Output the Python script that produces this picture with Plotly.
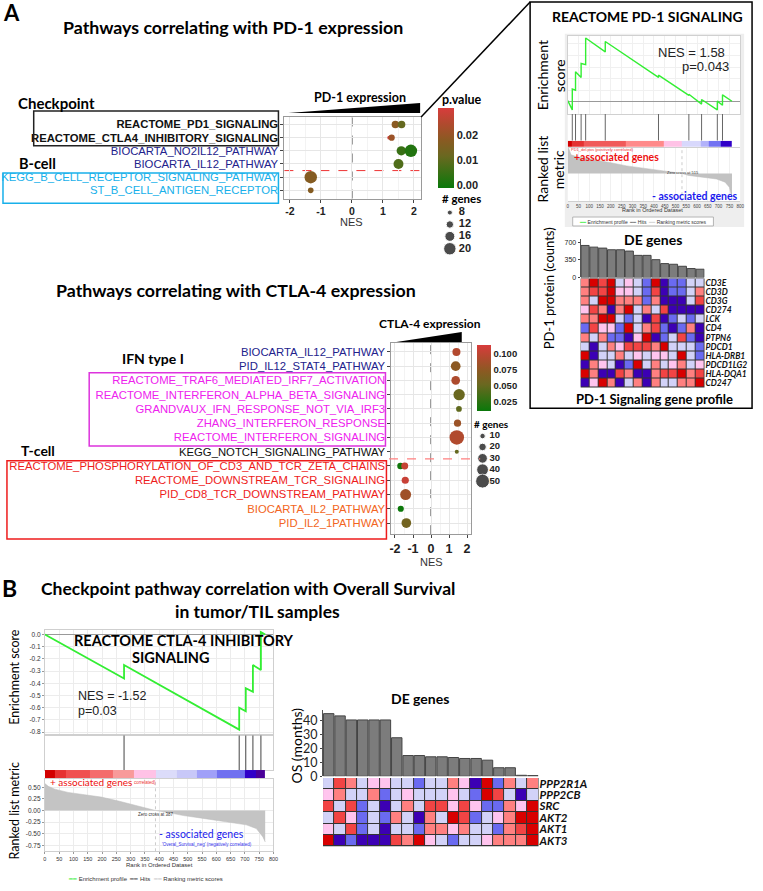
import plotly.graph_objects as go

W, H = 763, 891
def X(px): return px / W
def Y(py): return 1 - py / H
def DX(a, b): return [X(a), X(b)]
def DY(top, bottom): return [Y(bottom), Y(top)]

LATO = "Lato"
ARIAL = "Liberation Sans"

# ===================== DATA =====================
# --- A: PD-1 dot plot ---
pd1_pathways = ["REACTOME_PD1_SIGNALING", "REACTOME_CTLA4_INHIBITORY_SIGNALING",
                "BIOCARTA_NO2IL12_PATHWAY", "BIOCARTA_IL12_PATHWAY",
                "KEGG_B_CELL_RECEPTOR_SIGNALING_PATHWAY", "ST_B_CELL_ANTIGEN_RECEPTOR"]
pd1_label_colors = ["#111111", "#111111", "#22228c", "#22228c", "#18b0ea", "#18b0ea"]
pd1_label_bold = [True, True, False, False, False, False]
pd1_dot_path = ["REACTOME_PD1_SIGNALING", "REACTOME_PD1_SIGNALING",
                "REACTOME_CTLA4_INHIBITORY_SIGNALING", "REACTOME_CTLA4_INHIBITORY_SIGNALING",
                "BIOCARTA_NO2IL12_PATHWAY", "BIOCARTA_NO2IL12_PATHWAY",
                "BIOCARTA_IL12_PATHWAY", "KEGG_B_CELL_RECEPTOR_SIGNALING_PATHWAY",
                "ST_B_CELL_ANTIGEN_RECEPTOR"]
pd1_dot_nes = [1.40, 1.60, 1.20, 1.28, 1.59, 1.90, 1.50, -1.33, -1.33]
pd1_dot_p = [0.018, 0.011, 0.030, 0.021, 0.005, 0.002, 0.008, 0.017, 0.017]
pd1_dot_genes = [12, 12, 6, 10, 15, 20, 16, 20, 9]
pd1_size_breaks = [8, 12, 16, 20]
pd1_cbar_ticks = [0.00, 0.01, 0.02]
nes_ticks = [-2, -1, 0, 1, 2]

# --- A: CTLA-4 dot plot ---
ctla_pathways = ["BIOCARTA_IL12_PATHWAY", "PID_IL12_STAT4_PATHWAY",
                 "REACTOME_TRAF6_MEDIATED_IRF7_ACTIVATION", "REACTOME_INTERFERON_ALPHA_BETA_SIGNALING",
                 "GRANDVAUX_IFN_RESPONSE_NOT_VIA_IRF3", "ZHANG_INTERFERON_RESPONSE",
                 "REACTOME_INTERFERON_SIGNALING", "KEGG_NOTCH_SIGNALING_PATHWAY",
                 "REACTOME_PHOSPHORYLATION_OF_CD3_AND_TCR_ZETA_CHAINS", "REACTOME_DOWNSTREAM_TCR_SIGNALING",
                 "PID_CD8_TCR_DOWNSTREAM_PATHWAY", "BIOCARTA_IL2_PATHWAY", "PID_IL2_1PATHWAY"]
ctla_label_colors = ["#22228c", "#22228c", "#ee22ee", "#ee22ee", "#ee22ee", "#ee22ee", "#ee22ee",
                     "#111111", "#ee1c1c", "#ee1c1c", "#ee1c1c", "#f26522", "#f26522"]
ctla_dot_path = ["BIOCARTA_IL12_PATHWAY", "PID_IL12_STAT4_PATHWAY",
                 "REACTOME_TRAF6_MEDIATED_IRF7_ACTIVATION", "REACTOME_INTERFERON_ALPHA_BETA_SIGNALING",
                 "GRANDVAUX_IFN_RESPONSE_NOT_VIA_IRF3", "ZHANG_INTERFERON_RESPONSE",
                 "REACTOME_INTERFERON_SIGNALING", "KEGG_NOTCH_SIGNALING_PATHWAY",
                 "REACTOME_PHOSPHORYLATION_OF_CD3_AND_TCR_ZETA_CHAINS",
                 "REACTOME_PHOSPHORYLATION_OF_CD3_AND_TCR_ZETA_CHAINS",
                 "REACTOME_DOWNSTREAM_TCR_SIGNALING", "PID_CD8_TCR_DOWNSTREAM_PATHWAY",
                 "BIOCARTA_IL2_PATHWAY", "PID_IL2_1PATHWAY"]
ctla_dot_nes = [1.41, 1.37, 1.37, 1.56, 1.55, 1.47, 1.43, 1.43, -1.70, -1.46, -1.43, -1.41, -1.68, -1.37]
ctla_dot_p = [0.095, 0.074, 0.092, 0.052, 0.048, 0.082, 0.094, 0.050, 0.014, 0.104, 0.106, 0.084, 0.012, 0.058]
ctla_dot_genes = [22, 30, 25, 38, 11, 18, 53, 3, 14, 17, 18, 36, 13, 30]
ctla_size_breaks = [10, 20, 30, 40, 50]
ctla_cbar_ticks = [0.025, 0.050, 0.075, 0.100]

# --- A inset: GSEA REACTOME PD-1 SIGNALING ---
pd1_es_rank = [0, 21, 21, 36, 36, 62, 62, 83, 83, 174, 174, 421, 421, 562, 562, 621, 621, 694, 694, 718, 718, 762]
pd1_es_val = [0.01, -0.07, 0.11, 0.10, 0.26, 0.21, 0.33, 0.32, 0.55, 0.43, 0.52, 0.21, 0.23, 0.055, 0.065,
              -0.02, 0.02, -0.07, 0.006, -0.03, 0.06, 0.005]
pd1_hits = [21, 36, 62, 83, 174, 421, 562, 621, 694, 718]
pd1_metric_rank = [0, 5, 15, 43, 120, 200, 274, 350, 428, 530, 560, 620, 690, 730, 750, 762]
pd1_metric_val = [0.70, 0.62, 0.47, 0.42, 0.35, 0.27, 0.19, 0.13, 0.07, 0.0, -0.05, -0.09, -0.14, -0.22, -0.35, -0.62]
pd1_strip_edges = [0, 20, 73, 270, 444, 527, 618, 656, 709, 762]
pd1_strip_colors = ["#d20000", "#e43232", "#f05a5a", "#ff8a8a", "#ffc2e6", "#d8d8fc", "#b2b2fa", "#7272f2", "#3000c8"]
pd1_zero_cross = 530
rank_ticks = list(range(0, 801, 50))

# --- A inset: DE genes ---
pd1_de_counts = [634, 601, 582, 549, 549, 523, 438, 438, 353, 275, 262, 222, 177, 164]
pd1_count_ticks = [0, 350, 700]
pd1_genes = ["CD3E", "CD3D", "CD3G", "CD274", "LCK", "CD4", "PTPN6", "PDCD1",
             "HLA-DRB1", "PDCD1LG2", "HLA-DQA1", "CD247"]
pd1_heat = [
    [4, 6, 5, 6, 2, 3, 2, 1, 6, 0, 1, 1, 2, 2],
    [4, 5, 5, 6, 3, 3, 2, 1, 5, 0, 1, 1, 2, 4],
    [4, 2, 6, 6, 4, 4, 4, 1, 4, 0, 0, 0, 2, 5],
    [3, 5, 4, 0, 4, 6, 2, 4, 2, 5, 0, 0, 0, 0],
    [4, 4, 6, 6, 2, 1, 2, 0, 5, 0, 1, 2, 1, 2],
    [1, 5, 3, 3, 1, 6, 2, 4, 5, 1, 0, 1, 4, 0],
    [4, 2, 4, 1, 1, 0, 3, 6, 0, 1, 2, 5, 1, 0],
    [2, 0, 2, 4, 3, 5, 5, 5, 4, 6, 2, 2, 2, 1],
    [6, 0, 2, 2, 4, 2, 3, 2, 3, 3, 2, 6, 2, 1],
    [0, 4, 3, 2, 0, 1, 6, 2, 4, 2, 3, 4, 2, 3],
    [6, 4, 0, 0, 5, 4, 0, 0, 4, 5, 5, 6, 4, 5],
    [0, 3, 6, 4, 0, 2, 4, 0, 4, 2, 2, 4, 4, 6],
]

# --- B: GSEA REACTOME CTLA-4 INHIBITORY SIGNALING vs OS ---
b_es_rank = [0, 277, 277, 680, 680, 703, 703, 728, 728, 756, 756, 771]
b_es_val = [0.0, -0.36, -0.25, -0.78, -0.60, -0.63, -0.44, -0.47, -0.25, -0.29, 0.02, 0.0]
b_es_ticks = [0.0, -0.1, -0.2, -0.3, -0.4, -0.5, -0.6, -0.7, -0.8]
b_hits = [277, 680, 703, 728, 756]
b_metric_rank = [0, 12, 35, 81, 139, 197, 254, 312, 387, 428, 485, 543, 601, 659, 705, 740, 763, 771]
b_metric_val = [0.58, 0.52, 0.46, 0.39, 0.34, 0.29, 0.21, 0.12, 0.0, -0.04, -0.11, -0.16, -0.21, -0.26, -0.31, -0.39, -0.57, -0.68]
b_metric_ticks = [0.5, 0.25, 0.0, -0.25, -0.5, -0.75]
b_strip_edges = [0, 35, 75, 156, 237, 312, 387, 462, 532, 601, 699, 740, 771]
b_strip_colors = ["#d20000", "#e63232", "#f05050", "#f46c6c", "#f89a9a", "#ffc2e6", "#dcdcfa",
                  "#c8c8f8", "#a0a0f8", "#7070f0", "#3000c8", "#4a0098"]
b_zero_cross = 387

# --- B: DE genes ---
b_os = [44.7, 43.1, 40.2, 40.2, 40.2, 40.2, 27.5, 14.8, 14.8, 13.9, 13.9, 13.4, 12.7, 12.7, 11.5, 6.1, 6.1, 0.7, 0.5]
b_os_ticks = [0, 10, 20, 30, 40]
b_genes = ["PPP2R1A", "PPP2CB", "SRC", "AKT2", "AKT1", "AKT3"]
b_heat = [
    [2, 5, 4, 2, 3, 3, 2, 2, 1, 2, 2, 4, 3, 0, 6, 1, 4, 2, 4],
    [3, 4, 2, 2, 4, 1, 2, 3, 2, 2, 2, 3, 2, 1, 6, 5, 2, 0, 2],
    [5, 2, 5, 1, 2, 0, 2, 4, 2, 5, 5, 3, 5, 3, 1, 1, 4, 3, 6],
    [2, 5, 3, 1, 2, 1, 4, 2, 0, 4, 2, 6, 5, 1, 2, 3, 4, 6, 6],
    [3, 2, 5, 1, 2, 0, 2, 2, 1, 4, 4, 3, 4, 2, 2, 1, 4, 5, 6],
    [6, 0, 1, 0, 0, 0, 5, 4, 6, 3, 2, 1, 2, 2, 3, 4, 4, 4, 6],
]
heat_colors = ["#3c00b4", "#6a6af0", "#d2d2f8", "#ffc4ee", "#ff8080", "#f24444", "#d80000"]

# ===================== HELPERS =====================
shapes, annotations = [], []

def note(text, x, y, size, bold=False, color="black", family=LATO, xanchor="center",
         yanchor="middle", angle=0):
    if bold:
        text = f"<b>{text}</b>"
    annotations.append(dict(text=text, x=X(x), y=Y(y), xref="paper", yref="paper", showarrow=False,
                            font=dict(family=family, size=size, color=color),
                            xanchor=xanchor, yanchor=yanchor, textangle=angle, borderpad=0))

def rect(x0, y0, x1, y1, line_color=None, width=1, fill=None, layer="above"):
    shapes.append(dict(type="rect", xref="paper", yref="paper", x0=X(x0), x1=X(x1), y0=Y(y0), y1=Y(y1),
                       line=dict(color=line_color or "rgba(0,0,0,0)", width=width if line_color else 0),
                       fillcolor=fill or "rgba(0,0,0,0)", layer=layer))

def seg(x0, y0, x1, y1, color="black", width=1, dash="solid"):
    shapes.append(dict(type="line", xref="paper", yref="paper", x0=X(x0), y0=Y(y0), x1=X(x1), y1=Y(y1),
                       line=dict(color=color, width=width, dash=dash)))

def discrete(colors):
    n = len(colors)
    cs = []
    for i, c in enumerate(colors):
        cs += [[i / n, c], [(i + 1) / n, c]]
    return cs

def vlines(xs):
    xx, yy = [], []
    for h in xs:
        xx += [h, h, None]
        yy += [0, 1, None]
    return xx, yy

pv_scale = [[0, "#0a780a"], [0.4, "#6a6820"], [0.6, "#8a5a22"], [0.8, "#b04a2e"], [1, "#d83c3c"]]
def pd1_size(n): return 5 + (n - 8) * 0.62
def ctla_size(n): return 3.4 + 0.21 * n

fig = go.Figure()

# background boxes (drawn first)
rect(568, 33, 749, 228, fill="#eeeeee", layer="below")
rect(571, 35, 745, 202, fill="white", layer="below")

# ===================== PD-1 DOT PLOT =====================
fig.add_trace(go.Scatter(
    x=pd1_dot_nes, y=pd1_dot_path, mode="markers", xaxis="x", yaxis="y", showlegend=False,
    marker=dict(size=[pd1_size(n) for n in pd1_dot_genes], color=pd1_dot_p, colorscale=pv_scale,
                cmin=-0.0012, cmax=0.0308, line=dict(width=0), opacity=1, showscale=True,
                colorbar=dict(x=X(440), xanchor="left", y=Y(108), yanchor="top", len=80, lenmode="pixels",
                              thickness=16, thicknessmode="pixels", outlinewidth=0, xpad=0, ypad=0,
                              tickvals=pd1_cbar_ticks, ticktext=[f"<b>{v:.2f}</b>" for v in pd1_cbar_ticks],
                              tickfont=dict(family=ARIAL, size=11, color="#222"), ticks=""))))

pd1_ticktext = [f"<span style='color:{c}'>{'<b>' + p + '</b>' if b else p}</span>"
                for p, c, b in zip(pd1_pathways, pd1_label_colors, pd1_label_bold)]

# ===================== CTLA-4 DOT PLOT =====================
fig.add_trace(go.Scatter(
    x=ctla_dot_nes, y=ctla_dot_path, mode="markers", xaxis="x2", yaxis="y2", showlegend=False,
    marker=dict(size=[ctla_size(n) for n in ctla_dot_genes], color=ctla_dot_p, colorscale=pv_scale,
                cmin=0.011, cmax=0.114, line=dict(width=0), opacity=1, showscale=True,
                colorbar=dict(x=X(479), xanchor="left", y=Y(347), yanchor="top", len=66, lenmode="pixels",
                              thickness=14, thicknessmode="pixels", outlinewidth=0, xpad=0, ypad=0,
                              tickvals=ctla_cbar_ticks, ticktext=[f"<b>{v:.3f}</b>" for v in ctla_cbar_ticks],
                              tickfont=dict(family=ARIAL, size=9.5, color="#222"), ticks=""))))
ctla_ticktext = [f"<span style='color:{c}'>{p}</span>" for p, c in zip(ctla_pathways, ctla_label_colors)]

# size legends (overlay pixel axis x20/y20)
pd1_leg_y = [213.5, 225.5, 237.5, 250]
ctla_leg_y = [439, 450, 461.5, 473, 484.5]
fig.add_trace(go.Scatter(x=[452] * len(pd1_size_breaks), y=pd1_leg_y, mode="markers",
                         xaxis="x20", yaxis="y20", showlegend=False,
                         marker=dict(size=[pd1_size(n) for n in pd1_size_breaks], color="black")))
fig.add_trace(go.Scatter(x=[461] * len(pd1_size_breaks), y=pd1_leg_y, mode="text",
                         xaxis="x20", yaxis="y20", showlegend=False, textposition="middle right",
                         text=[f"<b>{n}</b>" for n in pd1_size_breaks],
                         textfont=dict(family=ARIAL, size=11, color="#222")))
fig.add_trace(go.Scatter(x=[485] * len(ctla_size_breaks), y=ctla_leg_y, mode="markers",
                         xaxis="x20", yaxis="y20", showlegend=False,
                         marker=dict(size=[ctla_size(n) for n in ctla_size_breaks], color="black")))
fig.add_trace(go.Scatter(x=[492] * len(ctla_size_breaks), y=ctla_leg_y, mode="text",
                         xaxis="x20", yaxis="y20", showlegend=False, textposition="middle right",
                         text=[f"<b>{n}</b>" for n in ctla_size_breaks],
                         textfont=dict(family=ARIAL, size=9.5, color="#222")))

# ===================== PD-1 GSEA (inset) =====================
fig.add_trace(go.Scatter(x=pd1_es_rank, y=pd1_es_val, mode="lines", xaxis="x3", yaxis="y3",
                         line=dict(color="#33ee33", width=1.4), showlegend=False))
hx, hy = vlines(pd1_hits)
fig.add_trace(go.Scatter(x=hx, y=hy, mode="lines", xaxis="x4", yaxis="y4",
                         line=dict(color="#666666", width=1), showlegend=False))
fig.add_trace(go.Heatmap(z=[list(range(len(pd1_strip_colors)))], x=pd1_strip_edges, xaxis="x5", yaxis="y5",
                         colorscale=discrete(pd1_strip_colors), zmin=-0.5, zmax=len(pd1_strip_colors) - 0.5,
                         showscale=False, hoverinfo="skip"))
fig.add_trace(go.Scatter(x=pd1_metric_rank, y=pd1_metric_val, mode="lines", xaxis="x6", yaxis="y6",
                         fill="tozeroy", fillcolor="#c2c2c2", line=dict(color="#bdbdbd", width=0.5),
                         showlegend=False))

# ===================== PD-1 DE genes =====================
fig.add_trace(go.Bar(x=list(range(len(pd1_de_counts))), y=pd1_de_counts, xaxis="x7", yaxis="y7",
                     marker=dict(color="#7c7c7c", line=dict(color="#444444", width=1)), width=0.92,
                     showlegend=False))
fig.add_trace(go.Heatmap(z=pd1_heat, x=list(range(len(pd1_heat[0]))), y=pd1_genes, xaxis="x8", yaxis="y8",
                         colorscale=discrete(heat_colors), zmin=-0.5, zmax=len(heat_colors) - 0.5,
                         showscale=False, xgap=1, ygap=1, hoverinfo="skip"))

# ===================== B GSEA =====================
rect(43.3, 635, 274, 858, fill="white", layer="below")
fig.add_trace(go.Scatter(x=b_es_rank, y=b_es_val, mode="lines", xaxis="x9", yaxis="y9",
                         line=dict(color="#33ee33", width=1.8), showlegend=False))
hx, hy = vlines(b_hits)
fig.add_trace(go.Scatter(x=hx, y=hy, mode="lines", xaxis="x10", yaxis="y10",
                         line=dict(color="#444444", width=1), showlegend=False))
fig.add_trace(go.Heatmap(z=[list(range(len(b_strip_colors)))], x=b_strip_edges, xaxis="x11", yaxis="y11",
                         colorscale=discrete(b_strip_colors), zmin=-0.5, zmax=len(b_strip_colors) - 0.5,
                         showscale=False, hoverinfo="skip"))
fig.add_trace(go.Scatter(x=b_metric_rank, y=b_metric_val, mode="lines", xaxis="x12", yaxis="y12",
                         fill="tozeroy", fillcolor="#c4c4c4", line=dict(color="#bdbdbd", width=0.5),
                         showlegend=False))

# ===================== B DE genes =====================
fig.add_trace(go.Bar(x=list(range(len(b_os))), y=b_os, xaxis="x13", yaxis="y13",
                     marker=dict(color="#7c7c7c", line=dict(color="#444444", width=1)), width=0.92,
                     showlegend=False))
fig.add_trace(go.Heatmap(z=b_heat, x=list(range(len(b_heat[0]))), y=b_genes, xaxis="x14", yaxis="y14",
                         colorscale=discrete(heat_colors), zmin=-0.5, zmax=len(heat_colors) - 0.5,
                         showscale=False, xgap=1, ygap=1, hoverinfo="skip"))

# dark backgrounds behind heatmaps (cell borders)
rect(584, 280, 709, 390, fill="#333333", layer="below")
rect(324, 784, 541.5, 853, fill="#333333", layer="below")

# ===================== AXES =====================
grid = "#e6e6e6"
layout_axes = {}
# PD-1 dot plot
layout_axes["xaxis"] = dict(domain=DX(285, 423), range=[-2.18, 2.23], anchor="y",
                            tickvals=nes_ticks, ticktext=[f"<b>{t}</b>" for t in nes_ticks],
                            tickfont=dict(family=ARIAL, size=10.5, color="#222"),
                            ticks="outside", ticklen=3, tickcolor="#444", showgrid=True, gridcolor=grid,
                            minor=dict(tickvals=[-1.5, -0.5, 0.5, 1.5], showgrid=True, gridcolor="#f3f3f3"),
                            zeroline=False, showline=True, mirror=True, linecolor="#9a9a9a", linewidth=1)
layout_axes["yaxis"] = dict(domain=DY(117, 199.3), anchor="x", type="category",
                            categoryorder="array", categoryarray=list(reversed(pd1_pathways)),
                            range=[-0.62, 5.57], tickvals=pd1_pathways, ticktext=pd1_ticktext,
                            tickfont=dict(family=ARIAL, size=11.3), ticks="outside", ticklen=3, tickcolor="#444",
                            showgrid=True, gridcolor=grid, zeroline=False,
                            showline=True, mirror=True, linecolor="#9a9a9a", linewidth=1)
# CTLA-4 dot plot
layout_axes["xaxis2"] = dict(domain=DX(393, 473), range=[-2.2, 2.2], anchor="y2",
                             tickvals=nes_ticks, ticktext=[f"<b>{t}</b>" for t in nes_ticks],
                             tickfont=dict(family=ARIAL, size=12.5, color="#222"),
                             ticks="outside", ticklen=3, tickcolor="#444", showgrid=True, gridcolor=grid,
                             minor=dict(tickvals=[-1.5, -0.5, 0.5, 1.5], showgrid=True, gridcolor="#f3f3f3"),
                             zeroline=False, showline=True, mirror=True, linecolor="#9a9a9a", linewidth=1)
layout_axes["yaxis2"] = dict(domain=DY(345, 538), anchor="x2", type="category",
                             categoryorder="array", categoryarray=list(reversed(ctla_pathways)),
                             range=[-0.78, 12.63], tickvals=ctla_pathways, ticktext=ctla_ticktext,
                             tickfont=dict(family=ARIAL, size=11.3), ticks="outside", ticklen=3, tickcolor="#444",
                             showgrid=True, gridcolor=grid, zeroline=False,
                             showline=True, mirror=True, linecolor="#9a9a9a", linewidth=1)

# PD-1 GSEA stack
gx = dict(domain=DX(571, 745), range=[0, 800])
layout_axes["xaxis3"] = dict(**gx, anchor="y3", showticklabels=False, ticks="", showgrid=True,
                             gridcolor="#f0f0f0", dtick=50, zeroline=False,
                             showline=True, mirror=True, linecolor="#d0d0d0")
layout_axes["yaxis3"] = dict(domain=DY(35, 114), anchor="x3", range=[-0.105, 0.57], showticklabels=False,
                             ticks="", showgrid=True, gridcolor="#f0f0f0", dtick=0.1,
                             zeroline=True, zerolinecolor="#999999", zerolinewidth=1,
                             showline=True, mirror=True, linecolor="#d0d0d0")
layout_axes["xaxis4"] = dict(**gx, anchor="y4", showticklabels=False, ticks="", showgrid=False, zeroline=False)
layout_axes["yaxis4"] = dict(domain=DY(114, 141), anchor="x4", range=[0, 1], showticklabels=False, ticks="",
                             showgrid=False, zeroline=False)
layout_axes["xaxis5"] = dict(**gx, anchor="y5", showticklabels=False, ticks="", showgrid=False, zeroline=False)
layout_axes["yaxis5"] = dict(domain=DY(141, 147.5), anchor="x5", range=[-0.5, 0.5], showticklabels=False,
                             ticks="", showgrid=False, zeroline=False)
layout_axes["xaxis6"] = dict(**gx, anchor="y6", tickvals=rank_ticks, tickfont=dict(family=ARIAL, size=4.5, color="#444"),
                             ticks="", showgrid=True, gridcolor="#f0f0f0", zeroline=False,
                             showline=True, mirror=True, linecolor="#d0d0d0")
layout_axes["yaxis6"] = dict(domain=DY(148, 202), anchor="x6", range=[-0.7, 0.65], showticklabels=False,
                             ticks="", showgrid=False, zeroline=False)

# PD-1 DE bars + heatmap
layout_axes["xaxis7"] = dict(domain=DX(584, 709), range=[-0.5, len(pd1_de_counts) - 0.5], anchor="y7",
                             showticklabels=False, ticks="", showgrid=False, zeroline=False)
layout_axes["yaxis7"] = dict(domain=DY(240, 279), anchor="x7", range=[0, 765], tickvals=pd1_count_ticks,
                             tickfont=dict(family=ARIAL, size=7, color="#222"), ticks="outside", ticklen=2,
                             showgrid=False, zeroline=False, showline=True, linecolor="#555", linewidth=1)
layout_axes["xaxis8"] = dict(domain=DX(584, 709), range=[-0.5, len(pd1_heat[0]) - 0.5], anchor="y8",
                             showticklabels=False, ticks="", showgrid=False, zeroline=False)
layout_axes["yaxis8"] = dict(domain=DY(280, 390), anchor="x8", autorange="reversed", side="right",
                             tickvals=pd1_genes, ticktext=[f"<b><i>{g}</i></b>" for g in pd1_genes],
                             tickfont=dict(family=LATO, size=8.5, color="#111"), ticks="", showgrid=False,
                             zeroline=False)

# B GSEA stack
bx = dict(domain=DX(43.3, 274), range=[0, 800])
layout_axes["xaxis9"] = dict(**bx, anchor="y9", showticklabels=False, ticks="", showgrid=True, gridcolor="#ececec",
                             dtick=50, zeroline=False, showline=True, mirror=True, linecolor="#cfcfcf")
layout_axes["yaxis9"] = dict(domain=DY(635, 741), anchor="x9", range=[-0.827, 0.035], tickvals=b_es_ticks,
                             ticktext=[f"{t:.1f}" for t in b_es_ticks],
                             tickfont=dict(family=ARIAL, size=6.5, color="#333"), ticks="outside", ticklen=2,
                             tickcolor="#999", showgrid=True, gridcolor="#ececec", zeroline=True,
                             zerolinecolor="#999999", zerolinewidth=1,
                             showline=True, mirror=True, linecolor="#cfcfcf")
layout_axes["xaxis10"] = dict(**bx, anchor="y10", showticklabels=False, ticks="", showgrid=False, zeroline=False,
                              showline=True, mirror=True, linecolor="#cfcfcf")
layout_axes["yaxis10"] = dict(domain=DY(741, 776), anchor="x10", range=[0, 1], showticklabels=False, ticks="",
                              showgrid=False, zeroline=False, showline=True, mirror=True, linecolor="#cfcfcf")
layout_axes["xaxis11"] = dict(**bx, anchor="y11", showticklabels=False, ticks="", showgrid=False, zeroline=False)
layout_axes["yaxis11"] = dict(domain=DY(776, 784.5), anchor="x11", range=[-0.5, 0.5], showticklabels=False,
                              ticks="", showgrid=False, zeroline=False)
layout_axes["xaxis12"] = dict(**bx, anchor="y12", tickvals=rank_ticks,
                              tickfont=dict(family=ARIAL, size=5.5, color="#333"), ticks="outside", ticklen=2,
                              tickcolor="#999", showgrid=True, gridcolor="#ececec", zeroline=False,
                              showline=True, mirror=True, linecolor="#cfcfcf")
layout_axes["yaxis12"] = dict(domain=DY(785, 858), anchor="x12", range=[-0.88, 0.68], tickvals=b_metric_ticks,
                              ticktext=[f"{t:.2f}" for t in b_metric_ticks],
                              tickfont=dict(family=ARIAL, size=6.5, color="#333"), ticks="outside", ticklen=2,
                              tickcolor="#999", showgrid=True, gridcolor="#ececec", zeroline=False,
                              showline=True, mirror=True, linecolor="#cfcfcf")

# B DE bars + heatmap
layout_axes["xaxis13"] = dict(domain=DX(324, 541.5), range=[-0.5, len(b_os) - 0.5], anchor="y13",
                              showticklabels=False, ticks="", showgrid=False, zeroline=False)
layout_axes["yaxis13"] = dict(domain=DY(715, 782.3), anchor="x13", range=[0, 47.6], tickvals=b_os_ticks,
                              tickfont=dict(family=LATO, size=12.5, color="#222"), ticks="outside", ticklen=2,
                              showgrid=False, zeroline=False, showline=True, linecolor="#555", linewidth=1)
layout_axes["xaxis14"] = dict(domain=DX(324, 541.5), range=[-0.5, len(b_heat[0]) - 0.5], anchor="y14",
                              showticklabels=False, ticks="", showgrid=False, zeroline=False)
layout_axes["yaxis14"] = dict(domain=DY(784, 853), anchor="x14", autorange="reversed", side="right",
                              tickvals=b_genes, ticktext=[f"<b><i>{g}</i></b>" for g in b_genes],
                              tickfont=dict(family=LATO, size=11.5, color="#111"), ticks="", showgrid=False,
                              zeroline=False)

# overlay pixel axis for legend glyphs
layout_axes["xaxis20"] = dict(domain=[0, 1], range=[0, W], visible=False, anchor="y20")
layout_axes["yaxis20"] = dict(domain=[0, 1], range=[H, 0], visible=False, anchor="x20")

# ===================== SHAPES =====================
shapes.append(dict(type="line", xref="x", yref="y domain", x0=0, x1=0, y0=0, y1=1,
                   line=dict(color="#333", width=1, dash="dash"), layer="below"))
shapes.append(dict(type="line", xref="x domain", yref="y", x0=0, x1=1, y0=1.5, y1=1.5,
                   line=dict(color="#ee3333", width=1, dash="dash"), layer="below"))
shapes.append(dict(type="line", xref="x2", yref="y2 domain", x0=0, x1=0, y0=0, y1=1,
                   line=dict(color="#333", width=1, dash="dash"), layer="below"))
shapes.append(dict(type="line", xref="x2 domain", yref="y2", x0=-0.03, x1=1.12, y0=4.5, y1=4.5,
                   line=dict(color="#ff8080", width=1.2, dash="dash")))
shapes.append(dict(type="line", xref="x6", yref="y6 domain", x0=pd1_zero_cross, x1=pd1_zero_cross, y0=0, y1=1,
                   line=dict(color="#cccccc", width=1, dash="dot")))
shapes.append(dict(type="line", xref="x12", yref="y12 domain", x0=b_zero_cross, x1=b_zero_cross, y0=0, y1=1,
                   line=dict(color="#cccccc", width=1, dash="dot")))

# expression wedges
shapes.append(dict(type="path", xref="paper", yref="paper", fillcolor="black", line=dict(width=0),
                   path=f"M {X(289)} {Y(113)} L {X(422)} {Y(103)} L {X(422)} {Y(113)} Z"))
shapes.append(dict(type="path", xref="paper", yref="paper", fillcolor="black", line=dict(width=0),
                   path=f"M {X(398)} {Y(344)} L {X(464)} {Y(334)} L {X(464)} {Y(344)} Z"))

# category boxes
rect(32, 111, 279, 146, line_color="#222222", width=1.5)
rect(1, 173.5, 279, 204, line_color="#18b0ea", width=1.5)
rect(88, 375, 387, 449, line_color="#dd33dd", width=1.5)
rect(5, 464, 388, 543, line_color="#ee1c1c", width=1.5)

# inset frame + connector
rect(533, 1, 757, 411, line_color="black", width=1.5)
seg(423, 117, 533, 1, color="black", width=1.5)

# GSEA legend box (inset)
rect(576, 218, 718, 227, line_color="#999999", width=0.7, fill="white")

# ===================== TEXT =====================
note("A", 10, 12, 22, bold=True)
note("Pathways correlating with PD-1 expression", 233, 26, 17.8, bold=True)
note("PD-1 expression", 361, 97, 12.5, bold=True)
note("Checkpoint", 55, 103, 15, bold=True)
note("B-cell", 36, 163.5, 14.5, bold=True)
note("NES", 353, 223, 11, family=ARIAL, color="#333")
note("p.value", 464, 99, 12.5, bold=True)
note("# genes", 464, 199.5, 11.5, bold=True)

note("Pathways correlating with CTLA-4 expression", 236, 292, 17.8, bold=True)
note("CTLA-4 expression", 432, 325, 12, bold=True)
note("IFN type I", 152, 361, 14, bold=True)
note("T-cell", 36, 454, 14, bold=True)
note("NES", 433, 566, 11, family=ARIAL, color="#333")
note("# genes", 494, 427, 10, bold=True)

note("REACTOME PD-1 SIGNALING", 651, 16, 14, bold=True)
note("NES = 1.58", 696, 52, 13, family=ARIAL, color="#222")
note("p=0.043", 735, 66, 13, family=ARIAL, color="#222", xanchor="right")
note("Enrichment", 545, 75, 14, angle=-90)
note("score", 562, 75, 14, angle=-90)
note("Ranked list", 545, 170, 14, angle=-90)
note("metric", 562, 170, 14, angle=-90)
note("PD1_del.pos (positively correlated)", 573, 149.5, 4, color="#ee3333", family=ARIAL, xanchor="left")
note("+associated genes", 620, 157, 10.5, bold=True, color="#ee1111")
note("Zero cross at 515", 687, 173, 4, family=ARIAL, color="#333")
note("- associated genes", 699, 197, 10.5, bold=True, color="#1a1aee")
note("Rank in Ordered Dataset", 657, 211, 5.5, family=ARIAL, color="#333")
note("<span style='color:#33ee33'>━━</span> Enrichment profile  <span style='color:#666'>━━</span> Hits  "
     "<span style='color:#cccccc'>━━</span> Ranking metric scores", 647, 222.5, 5, family=ARIAL, color="#333")
note("DE genes", 657, 241, 14, bold=True)
note("PD-1 protein (counts)", 552, 290, 13, angle=-90)
note("PD-1 Signaling gene profile", 659, 402, 13, bold=True)

note("B", 8, 592, 23, bold=True)
note("Checkpoint pathway correlation with Overall Survival", 248, 593, 17.5, bold=True)
note("in tumor/TIL samples", 258, 616, 17.5, bold=True)
note("REACTOME CTLA-4 INHIBITORY", 72, 645, 14.5, bold=True, xanchor="left")
note("SIGNALING", 130, 662, 14.5, bold=True, xanchor="left")
note("NES = -1.52", 76, 701.5, 12.5, family=ARIAL, color="#222", xanchor="left")
note("p=0.03", 76, 716, 12.5, family=ARIAL, color="#222", xanchor="left")
note("Enrichment score", 13, 682, 12.5, angle=-90)
note("Ranked list metric", 13, 817, 12.5, angle=-90)
note("+ associated genes", 47, 788, 10, color="#ee1111", xanchor="left")
note("correlated)", 132, 789, 4.5, color="#ee3333", family=ARIAL, xanchor="left")
note("Zero cross at 387", 155, 821, 4.5, family=ARIAL, color="#333")
note("- associated genes", 157, 841, 10.5, color="#1a1aee", xanchor="left")
note("'Overal_Survival_neg' (negatively correlated)", 160, 851.5, 4.5, family=ARIAL, color="#3333ee",
     xanchor="left")
note("Rank in Ordered Dataset", 159, 872, 6, family=ARIAL, color="#333")
note("<span style='color:#33ee33'>━━</span> Enrichment profile  <span style='color:#444'>━━</span> Hits  "
     "<span style='color:#cccccc'>━━</span> Ranking metric scores", 145, 886, 6, family=ARIAL, color="#333")
note("DE genes", 422, 704, 14, bold=True)
note("OS (months)", 297, 751, 14, angle=-90)

fig.update_layout(width=W, height=H, margin=dict(l=0, r=0, t=0, b=0), autosize=False,
                  paper_bgcolor="white", plot_bgcolor="rgba(0,0,0,0)",
                  font=dict(family=ARIAL, color="#222"), showlegend=False, bargap=0.08,
                  shapes=shapes, annotations=annotations, **layout_axes)

fig.write_html("out.html", config={"displayModeBar": False, "staticPlot": True},
               post_script="document.body.style.margin='0';document.body.style.overflow='hidden';")
